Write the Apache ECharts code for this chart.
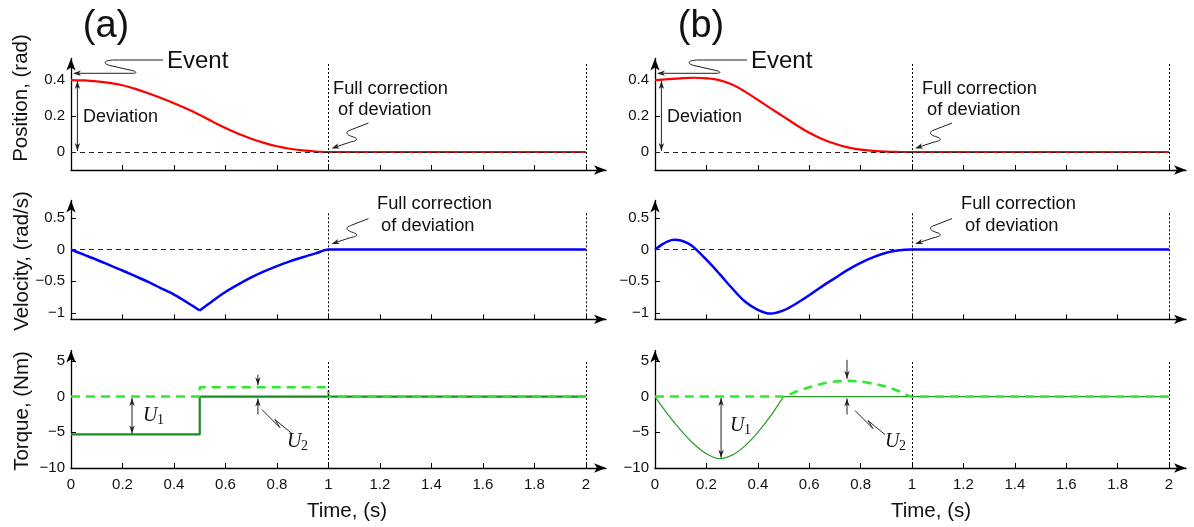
<!DOCTYPE html>
<html>
<head>
<meta charset="utf-8">
<script src="https://cdn.jsdelivr.net/npm/echarts@6/dist/echarts.min.js"></script>
<style>
  html, body { margin: 0; padding: 0; background: #fff; }
  #chart { width: 1194px; height: 527px; }
</style>
</head>
<body>
<div id="chart"></div>
<script>
// time samples for the smooth curves
const tCurve = [0, 0.05, 0.1, 0.15, 0.2, 0.25, 0.3, 0.35, 0.4, 0.45, 0.5,
                0.55, 0.6, 0.65, 0.7, 0.75, 0.8, 0.85, 0.9, 0.95, 1, 2]
// (a)
const posA = [0.400, 0.398, 0.393, 0.384, 0.371, 0.351, 0.327, 0.300, 0.271, 0.240, 0.206,
              0.169, 0.133, 0.101, 0.074, 0.051, 0.032, 0.018, 0.009, 0.003, 0, 0]
const tVelA1 = [0, 0.05, 0.1, 0.15, 0.2, 0.25, 0.3, 0.35, 0.4, 0.45, 0.5]
const velA1 = [0, -0.08, -0.16, -0.245, -0.33, -0.42, -0.51, -0.61, -0.71, -0.83, -0.96]
const tVelA2 = [0.5, 0.55, 0.6, 0.65, 0.7, 0.75, 0.8, 0.85, 0.9, 0.95, 1, 2]
const velA2 = [-0.96, -0.81, -0.67, -0.55, -0.44, -0.345, -0.26, -0.185, -0.12, -0.06, 0, 0]
const tU1A = [0, 0.5, 0.5, 1, 2]
const u1A = [-5.3, -5.3, 0, 0, 0]
const tU2A = [0, 0.5, 0.5, 1, 1, 2]
const u2A = [0, 0, 1.3, 1.3, 0, 0]
// (b)
const posB = [0.400, 0.405, 0.410, 0.413, 0.410, 0.400, 0.375, 0.336, 0.290, 0.243, 0.197,
              0.150, 0.107, 0.073, 0.046, 0.026, 0.013, 0.006, 0.002, 0.0005, 0, 0]
const tVelB = [0, 0.025, 0.05, 0.075, 0.1, 0.125, 0.15, 0.2, 0.25, 0.3, 0.35, 0.4, 0.45, 0.5,
               0.55, 0.6, 0.65, 0.7, 0.75, 0.8, 0.85, 0.9, 0.95, 1, 2]
const velB = [0, 0.075, 0.13, 0.155, 0.145, 0.105, 0.04, -0.16, -0.38, -0.61, -0.82, -0.95, -1.01, -0.96,
              -0.85, -0.72, -0.58, -0.45, -0.32, -0.21, -0.12, -0.05, -0.01, 0, 0]
const tU1B = [0, 0.05, 0.1, 0.15, 0.2, 0.25, 0.3, 0.35, 0.4, 0.45, 0.5]
const u1B = [0, -2.5, -4.7, -6.6, -8.0, -8.7, -8.2, -6.9, -5.0, -2.7, 0]
const tU1BTail = [0.5, 2]
const u1BTail = [0, 0]
const tU2B = [0, 0.5, 0.55, 0.6, 0.65, 0.7, 0.75, 0.8, 0.85, 0.9, 0.95, 1, 2]
const u2B = [0, 0, 0.7, 1.3, 1.8, 2.1, 2.2, 2.1, 1.8, 1.4, 0.75, 0, 0]

// ticks
const xTicks = [0, 0.2, 0.4, 0.6, 0.8, 1, 1.2, 1.4, 1.6, 1.8, 2]
const posTicks = [0, 0.2, 0.4]
const velTicks = [-1, -0.5, 0, 0.5]
const torTicks = [-10, -5, 0, 5]
const refTimes = [1, 2]

const font = 'Liberation Sans, Arial, Helvetica, sans-serif'
const serif = 'Liberation Serif, Times New Roman, serif'

const cols = [
  { left: 71, width: 535, max: 2.078 },
  { left: 655, width: 531, max: 2.066 }
]
const rows = [
  { top: 58.5, height: 111.5, min: -0.1, max: 0.52, ticks: posTicks, mark: 0.5 },
  { top: 200.5, height: 118.8, min: -1.1, max: 0.775, ticks: velTicks, mark: 0.6 },
  { top: 350.5, height: 117.5, min: -10, max: 6.45, ticks: torTicks, mark: 5 }
]

const grids = [], xAxes = [], yAxes = []
cols.forEach((c, ci) => {
  rows.forEach((r, ri) => {
    const i = ci * 3 + ri
    grids.push({ left: c.left, top: r.top, width: c.width, height: r.height })
    xAxes.push({
      type: 'value', gridIndex: i, min: 0, max: c.max,
      axisLine: { show: true, onZero: false, symbol: ['none', 'arrow'], symbolSize: [7, 12],
        lineStyle: { color: '#000', width: 1.3 } },
      axisTick: { show: true, inside: true, length: 5, customValues: xTicks,
        lineStyle: { color: '#000', width: 1 } },
      axisLabel: { show: ri === 2, customValues: xTicks, margin: 9, fontSize: 15,
        fontFamily: font, color: '#111' },
      splitLine: { show: false }
    })
    yAxes.push({
      type: 'value', gridIndex: i, min: r.min, max: r.max,
      axisLine: { show: true, onZero: false, symbol: ['none', 'arrow'], symbolSize: [7, 12],
        lineStyle: { color: '#000', width: 1.3 } },
      axisTick: { show: true, inside: true, length: 5, customValues: r.ticks,
        lineStyle: { color: '#000', width: 1 } },
      axisLabel: { customValues: r.ticks, margin: 6, fontSize: 15, fontFamily: font, color: '#111',
        formatter: v => (v < 0 ? '\u2212' : '') + Math.abs(v) },
      splitLine: { show: false }
    })
  })
})

function pairs(ts, vs) {
  return ts.map((x, k) => [x, vs[k]])
}

function marks(ri, zeroTo) {
  const r = rows[ri]
  const data = refTimes.map(x => [
    { coord: [x, r.min] }, { coord: [x, r.mark] }
  ])
  if (zeroTo) {
    data.push([
      { coord: [0, 0], lineStyle: { type: [5, 4], color: '#222', width: 1 } },
      { coord: [zeroTo, 0] }
    ])
  }
  return {
    silent: true, symbol: ['none', 'none'], label: { show: false },
    lineStyle: { color: '#000', type: [2, 2], width: 1 },
    emphasis: { disabled: true },
    data: data
  }
}

function line(g, ts, vs, color, width, extra) {
  return Object.assign({
    type: 'line', xAxisIndex: g, yAxisIndex: g, data: pairs(ts, vs),
    showSymbol: false, silent: true,
    lineStyle: { color: color, width: width }
  }, extra || {})
}

const dashGreen = { color: '#33e633', width: 2.6, type: [9, 6] }

const series = [
  // (a)
  line(0, tCurve, posA, '#ff0000', 2.2, { smooth: 0.35, markLine: marks(0, 2) }),
  line(1, tVelA1, velA1, '#0000ff', 2.5, { smooth: 0.3, markLine: marks(1, 1) }),
  line(1, tVelA2, velA2, '#0000ff', 2.5, { smooth: 0.3 }),
  line(2, tU1A, u1A, '#1c8c1c', 2.2),
  line(2, tU2A, u2A, '#33e633', 2.6, { lineStyle: dashGreen, markLine: marks(2) }),
  // (b)
  line(3, tCurve, posB, '#ff0000', 2.2, { smooth: 0.35, markLine: marks(0, 2) }),
  line(4, tVelB, velB, '#0000ff', 2.5, { smooth: 0.35, markLine: marks(1, 1) }),
  line(5, tU1B, u1B, '#2a9a2a', 1.2, { smooth: 0.3 }),
  line(5, tU1BTail, u1BTail, '#2a9a2a', 1.2),
  line(5, tU2B, u2B, '#33e633', 2.6, { smooth: 0.2, lineStyle: dashGreen, markLine: marks(2) })
]

const chart = echarts.init(document.getElementById('chart'))
chart.setOption({
  animation: false,
  backgroundColor: '#fff',
  textStyle: { fontFamily: font },
  grid: grids,
  xAxis: xAxes,
  yAxis: yAxes,
  series: series
})

// ---- annotations ----
const P = (g, x, y) => chart.convertToPixel({ gridIndex: g }, [x, y])
const ink = '#222'

function head(x, y, ang) {
  const L = 8, W = 2.7, c = Math.cos(ang), s = Math.sin(ang)
  const bx = x - L * c, by = y - L * s
  const nx = x - L * 0.72 * c, ny = y - L * 0.72 * s
  return { type: 'polygon', silent: true, z: 60,
    shape: { points: [[x, y], [bx - W * s, by + W * c], [nx, ny], [bx + W * s, by - W * c]] },
    style: { fill: ink } }
}
function seg(x1, y1, x2, y2, w) {
  return { type: 'line', silent: true, z: 60, shape: { x1, y1, x2, y2 },
    style: { stroke: ink, lineWidth: w || 1 } }
}
function arrow(x1, y1, x2, y2, both) {
  const a = Math.atan2(y2 - y1, x2 - x1)
  const out = [seg(x1, y1, x2, y2), head(x2, y2, a)]
  if (both) out.push(head(x1, y1, a + Math.PI))
  return out
}
// squiggle: list of commands ['M',x,y] ['L',x,y] ['C',x1,y1,x2,y2,x,y] ['Q',x1,y1,x,y]
function squiggle(cmds) {
  const pts = []
  let cur = [0, 0]
  cmds.forEach(c => {
    if (c[0] === 'M' || c[0] === 'L') {
      cur = [c[1], c[2]]
      pts.push(cur)
    } else if (c[0] === 'C') {
      const p0 = cur
      for (let k = 1; k <= 12; k++) {
        const u = k / 12, v = 1 - u
        pts.push([
          v * v * v * p0[0] + 3 * v * v * u * c[1] + 3 * v * u * u * c[3] + u * u * u * c[5],
          v * v * v * p0[1] + 3 * v * v * u * c[2] + 3 * v * u * u * c[4] + u * u * u * c[6]
        ])
      }
      cur = [c[5], c[6]]
    } else if (c[0] === 'Q') {
      const p0 = cur
      for (let k = 1; k <= 10; k++) {
        const u = k / 10, v = 1 - u
        pts.push([
          v * v * p0[0] + 2 * v * u * c[1] + u * u * c[3],
          v * v * p0[1] + 2 * v * u * c[2] + u * u * c[4]
        ])
      }
      cur = [c[3], c[4]]
    }
  })
  return { type: 'polyline', silent: true, z: 60, shape: { points: pts },
    style: { fill: null, stroke: ink, lineWidth: 1 } }
}
function txt(x, y, text, size, opt) {
  opt = opt || {}
  return { type: 'text', silent: true, z: 60, x: x, y: y, rotation: opt.rotation || 0,
    style: { text: text, fontSize: size, fontFamily: opt.family || font,
      fontStyle: opt.italic ? 'italic' : 'normal',
      fill: '#111', align: opt.align || 'left', verticalAlign: 'middle' } }
}

const g = []
// column titles
g.push(txt(106, 27, '(a)', 38, { align: 'center' }))
g.push(txt(701, 27, '(b)', 38, { align: 'center' }))
// y axis names
g.push(txt(21, 98, 'Position, (rad)', 20.5, { align: 'center', rotation: Math.PI / 2 }))
g.push(txt(22, 261, 'Velocity, (rad/s)', 20.5, { align: 'center', rotation: Math.PI / 2 }))
g.push(txt(22, 411, 'Torque, (Nm)', 20.5, { align: 'center', rotation: Math.PI / 2 }))
// x axis names
g.push(txt(347, 511, 'Time, (s)', 20.5, { align: 'center' }))
g.push(txt(931, 511, 'Time, (s)', 20.5, { align: 'center' }))

const colCfg = [
  { dx: 0, fullPos: 333, u1t: 0.237, u1v: -5.3, u1Text: [143, 416], u2t: 0.726, u2v: 1.3,
    u2Down: 12.5, u2Text: [287, 442], sq: [4, 13] },
  { dx: 584, fullPos: 922, u1t: 0.257, u1v: -8.7, u1Text: [730, 426], u2t: 0.747, u2v: 2.2,
    u2Down: 21, u2Text: [885, 442], sq: [8, 14] }
]

colCfg.forEach((c, ci) => {
  const gp = ci * 3, gv = ci * 3 + 1, gt = ci * 3 + 2
  const dx = c.dx
  // Event
  g.push(txt(167 + dx, 61, 'Event', 24))
  g.push(squiggle([['M', 163 + dx, 60], ['L', 115 + dx, 60],
    ['C', 104 + dx, 60, 102 + dx, 63.5, 110 + dx, 65.5], ['L', 132 + dx, 70.5],
    ['C', 137.5 + dx, 72, 137 + dx, 73.3, 132 + dx, 73.3], ['L', 79 + dx, 73.3]]))
  g.push(head(73 + dx, 73.3, Math.PI))
  // Deviation
  const d0 = P(gp, 0.025, 0), d1 = P(gp, 0.025, 0.4)
  g.push(...arrow(d0[0], d0[1] - 1, d1[0], d1[1] + 1, true))
  g.push(txt(83 + dx, 117, 'Deviation', 18))
  // Full correction of deviation (position and velocity)
  const fp = P(gp, 1, 0), fv = P(gv, 1, 0)
  g.push(txt(c.fullPos, 89, 'Full correction', 18.3))
  g.push(txt(c.fullPos + 5, 110, 'of deviation', 18.3))
  g.push(txt(377 + dx, 204, 'Full correction', 18.3))
  g.push(txt(381 + dx, 226, 'of deviation', 18.3))
  ;[[fp, 0], [fv, -2]].forEach(([p, oy]) => {
    const X = p[0], Y = p[1] + oy
    g.push(squiggle([['M', X + 40, Y - 29], ['L', X + 22, Y - 22],
      ['C', X + 16, Y - 20, X + 18, Y - 17, X + 25, Y - 15],
      ['C', X + 31, Y - 13, X + 28, Y - 11, X + 22, Y - 10], ['L', X + 7, Y - 5]]))
    g.push(head(X + 3, Y - 3.5, Math.atan2(6.5, -19)))
  })
  // U1
  const a0 = P(gt, c.u1t, 0), a1 = P(gt, c.u1t, c.u1v)
  g.push(...arrow(a0[0], a0[1] + 1.5, a1[0], a1[1] - 1, true))
  g.push(txt(c.u1Text[0], c.u1Text[1], 'U', 20, { family: serif, italic: true }))
  g.push(txt(c.u1Text[0] + 14, c.u1Text[1] + 4, '1', 14, { family: serif }))
  // U2
  const b0 = P(gt, c.u2t, 0), b1 = P(gt, c.u2t, c.u2v)
  g.push(...arrow(b1[0], b1[1] - c.u2Down, b1[0], b1[1] - 2))
  g.push(...arrow(b0[0], b0[1] + 18, b0[0], b0[1] + 2))
  const X = b0[0], Y = b0[1]
  g.push(squiggle([['M', X + c.sq[0], Y + c.sq[1]], ['L', X + c.sq[0] + 18, Y + c.sq[1] + 18],
    ['L', X + c.sq[0] + 13, Y + c.sq[1] + 10], ['L', X + c.sq[0] + 30, Y + c.sq[1] + 24]]))
  g.push(txt(c.u2Text[0], c.u2Text[1], 'U', 20, { family: serif, italic: true }))
  g.push(txt(c.u2Text[0] + 14, c.u2Text[1] + 4, '2', 14, { family: serif }))
})

chart.setOption({ graphic: { elements: g } })
</script>
</body>
</html>
